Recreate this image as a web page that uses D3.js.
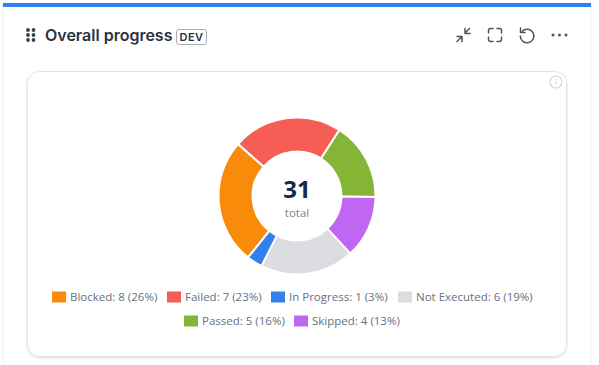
<!DOCTYPE html>
<html>
<head>
<meta charset="utf-8">
<title>Overall progress</title>
<script src="https://cdn.jsdelivr.net/npm/d3@7"></script>
<style>
  html, body { margin: 0; padding: 0; background: #fff; overflow: hidden; }
  svg { display: block; }
  .legend text { font: 11.5px "Open Sans", sans-serif; fill: #66707f; }
</style>
</head>
<body>
<div id="chart"></div>
<script>
// legend order
var categories = ["Blocked", "Failed", "In Progress", "Not Executed", "Passed", "Skipped"];
var counts = [8, 7, 1, 6, 5, 4];
var percents = [26, 23, 3, 19, 16, 13];
var colors = ["#f98b0a", "#f65d54", "#3580ec", "#dcdde1", "#84b536", "#bf66f2"];
// order the slices run clockwise round the ring
var sliceOrder = ["Blocked", "Failed", "Passed", "Skipped", "Not Executed", "In Progress"];
var totalLabel = "31";
var legendRows = [
  { y: 297, items: [0, 1, 2, 3], x: [52, 167, 271, 398] },
  { y: 321, items: [4, 5], x: [184, 294] }
];

var width = 599, height = 365;
var svg = d3.select("#chart").append("svg")
  .attr("width", width)
  .attr("height", height);

var defs = svg.append("defs");
var shadow = defs.append("filter").attr("id", "cardShadow")
  .attr("x", "-5%").attr("y", "-5%").attr("width", "110%").attr("height", "110%");
shadow.append("feDropShadow")
  .attr("dx", 0).attr("dy", 1).attr("stdDeviation", 1.2)
  .attr("flood-color", "#000").attr("flood-opacity", 0.16);

// panel + top blue bar
svg.append("rect").attr("x", 3).attr("y", 3).attr("width", 588).attr("height", 362)
  .attr("fill", "#fff").attr("stroke", "#f0f1f3");
svg.append("rect").attr("x", 3).attr("y", 3).attr("width", 588).attr("height", 4)
  .attr("fill", "#2f82f5");

// drag handle
var dots = svg.append("g").attr("fill", "#3b3f46");
[28, 33.5].forEach(function(x) {
  [30, 35, 40].forEach(function(y) {
    dots.append("circle").attr("cx", x).attr("cy", y).attr("r", 1.9);
  });
});

svg.append("text").attr("x", 45).attr("y", 41)
  .style("font", "600 16px Inter, sans-serif")
  .attr("fill", "#2b3240")
  .text("Overall progress");

svg.append("rect").attr("x", 176.5).attr("y", 29.5).attr("width", 30).attr("height", 15).attr("rx", 2.5)
  .attr("fill", "#fff").attr("stroke", "#a9adb3");
svg.append("text").attr("x", 191.5).attr("y", 41).attr("text-anchor", "middle")
  .style("font", "600 11px Inter, sans-serif").style("letter-spacing", "0.4px")
  .attr("fill", "#2b3240").text("DEV");

// toolbar icons
var icons = svg.append("g").attr("fill", "none").attr("stroke", "#50555d")
  .attr("stroke-width", 1.5).attr("stroke-linecap", "round").attr("stroke-linejoin", "round");
icons.append("path").attr("d", "M457 41.5L461.5 37M457 36.5H462V41.5M469.5 28.5L465 33M465 28.5V33.5H470");
icons.append("path").attr("d", "M488.5 33V30.5Q488.5 28.5 490.5 28.5H493M497 28.5H499.5Q501.5 28.5 501.5 30.5V33M501.5 37V39.5Q501.5 41.5 499.5 41.5H497M493 41.5H490.5Q488.5 41.5 488.5 39.5V37");
icons.append("path").attr("d", "M522.5 31A6.8 6.8 0 1 1 520.3 36M520.5 28V32.5H525");
var more = svg.append("g").attr("fill", "#50555d");
[553, 559.5, 566].forEach(function(x) {
  more.append("circle").attr("cx", x).attr("cy", 35).attr("r", 1.5);
});

// inner card
svg.append("rect").attr("x", 27.5).attr("y", 71.5).attr("width", 539).attr("height", 285).attr("rx", 12)
  .attr("fill", "#fff").attr("stroke", "#e3e4e7").attr("filter", "url(#cardShadow)");

var info = svg.append("g").attr("transform", "translate(556,82)");
info.append("circle").attr("r", 6).attr("fill", "none").attr("stroke", "#d5d7db").attr("stroke-width", 1.2);
info.append("path").attr("d", "M0 -0.5V3M0 -3V-2.2").attr("stroke", "#d5d7db").attr("stroke-width", 1.2);

// donut
var colorScale = d3.scaleOrdinal().domain(categories).range(colors);
var valueOf = d3.scaleOrdinal().domain(categories).range(counts);

var pie = d3.pie()
  .sort(null)
  .value(function(d) { return valueOf(d); })
  .startAngle(218.5 * Math.PI / 180)
  .endAngle((218.5 + 360) * Math.PI / 180);

var arc = d3.arc().innerRadius(44.5).outerRadius(78.5);

var ring = svg.append("g").attr("transform", "translate(297,196)");
ring.selectAll("path")
  .data(pie(sliceOrder))
  .enter().append("path")
  .attr("d", arc)
  .attr("fill", function(d) { return colorScale(d.data); })
  .attr("stroke", "#fff")
  .attr("stroke-width", 2);

ring.append("text").attr("y", 2).attr("text-anchor", "middle")
  .style("font", "700 24px 'Open Sans', sans-serif")
  .attr("fill", "#16294d")
  .text(totalLabel);
ring.append("text").attr("y", 21).attr("text-anchor", "middle")
  .style("font", "11.5px 'Open Sans', sans-serif")
  .attr("fill", "#7a8494")
  .text("total");

// legend
var legend = svg.append("g").attr("class", "legend");
legendRows.forEach(function(row) {
  row.items.forEach(function(idx, i) {
    var g = legend.append("g").attr("transform", "translate(" + row.x[i] + "," + row.y + ")");
    g.append("rect").attr("x", 0).attr("y", -5.5).attr("width", 14).attr("height", 11)
      .attr("fill", colors[idx]);
    g.append("text").attr("x", 18).attr("y", 4)
      .text(categories[idx] + ": " + counts[idx] + " (" + percents[idx] + "%)");
  });
});
</script>
</body>
</html>
